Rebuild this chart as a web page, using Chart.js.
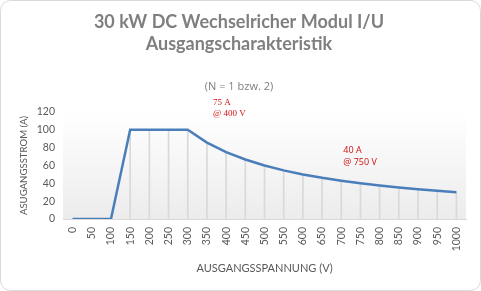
<!DOCTYPE html>
<html>
<head>
<meta charset="utf-8">
<script src="https://cdn.jsdelivr.net/npm/chart.js@4/dist/chart.umd.min.js"></script>
<style>
html,body{margin:0;padding:0;background:#fff;}
#wrap{width:481px;height:291px;position:relative;}
</style>
</head>
<body>
<div id="wrap"><canvas id="c" width="481" height="291"></canvas></div>
<script>
// ---- data ----
const voltageCategories = ['0','50','100','150','200','250','300','350','400','450','500','550','600','650','700','750','800','850','900','950','1000'];
const outputCurrent = [0,0,0,100,100,100,100,85.7,75,66.7,60,54.5,50,46.2,42.9,40,37.5,35.3,33.3,31.6,30];
const yTickMin = 0;
const yTickMax = 120;
const yTickStep = 20;
const titleLines = ['30 kW DC Wechselricher Modul I/U','Ausgangscharakteristik'];
const subtitleText = '(N = 1 bzw. 2)';
const yAxisTitle = 'ASUGANGSSTROM (A)';
const xAxisTitle = 'AUSGANGSSPANNUNG (V)';
const note1Lines = ['75 A','@ 400 V'];
const note2Lines = ['40 A','@ 750 V'];

const W = 481, H = 291;
const AREA_LEFT = 63, AREA_RIGHT = 466, AREA_BOTTOM = 219, PAD_LEFT = 12, PAD_BOTTOM = 10;

const decor = {
  id: 'decor',
  beforeDraw(chart) {
    const {ctx, chartArea: a} = chart;
    ctx.save();
    ctx.fillStyle = '#ffffff';
    ctx.fillRect(0, 0, W, H);
    const g = ctx.createLinearGradient(0, a.top, 0, a.bottom);
    g.addColorStop(0, '#ffffff');
    g.addColorStop(1, '#ececec');
    ctx.fillStyle = g;
    ctx.fillRect(a.left, a.top, a.right - a.left, a.bottom - a.top);
    ctx.restore();
  },
  afterDraw(chart) {
    const {ctx, scales} = chart;
    const x = scales.x, y = scales.y;
    ctx.save();
    // annotations
    ctx.fillStyle = '#d01010';
    ctx.textBaseline = 'middle';
    ctx.textAlign = 'left';
    ctx.font = '9px "Liberation Serif", serif';
    const n1x = x.getPixelForValue(7) + 6;
    const n1y = y.getPixelForValue(yTickMax) - 9;
    note1Lines.forEach((t, i) => ctx.fillText(t, n1x, n1y + i * 11));
    ctx.font = '9px "Open Sans", sans-serif';
    const n2x = x.getPixelForValue(14) + 2;
    const n2y = y.getPixelForValue(yTickMax) + 38;
    note2Lines.forEach((t, i) => ctx.fillText(t, n2x, n2y + i * 12));
    // outer rounded border
    ctx.strokeStyle = '#d9d9d9';
    ctx.lineWidth = 1;
    ctx.beginPath();
    ctx.roundRect(0.5, 0.5, W - 1, H - 1, 10);
    ctx.stroke();
    ctx.restore();
  }
};

new Chart(document.getElementById('c'), {
  type: 'line',
  data: {
    labels: voltageCategories,
    datasets: [
      {
        type: 'line',
        data: outputCurrent,
        borderColor: '#4a7ebb',
        borderWidth: 2.5,
        pointRadius: 0,
        tension: 0,
        fill: false,
        order: 0
      },
      {
        type: 'bar',
        data: outputCurrent,
        backgroundColor: '#d9d9d9',
        borderWidth: 0,
        barThickness: 1,
        order: 1
      }
    ]
  },
  plugins: [decor],
  options: {
    responsive: false,
    animation: false,
    devicePixelRatio: 1,
    layout: { padding: { left: PAD_LEFT, right: W - AREA_RIGHT, top: 0, bottom: PAD_BOTTOM } },
    plugins: {
      legend: { display: false },
      tooltip: { enabled: false },
      title: {
        display: true,
        text: titleLines,
        color: '#7f7f7f',
        font: { family: 'Lato', size: 18, weight: 'bold', lineHeight: 22 / 18 },
        padding: { top: 11, bottom: 12 }
      },
      subtitle: {
        display: true,
        text: subtitleText,
        color: '#7f7f7f',
        font: { family: 'Open Sans', size: 11, lineHeight: 1.2 },
        padding: { top: 13.4, bottom: 18.4 }
      }
    },
    scales: {
      x: {
        type: 'category',
        offset: true,
        grid: { display: false, drawTicks: false, offset: false },
        border: { display: true, color: '#d9d9d9', width: 1 },
        ticks: {
          minRotation: 90, maxRotation: 90, autoSkip: false,
          padding: 8, color: '#595959',
          font: { family: 'Lato', size: 10.5 }
        },
        title: {
          display: true, text: xAxisTitle, color: '#595959',
          font: { family: 'Lato', size: 11, lineHeight: 1.2 },
          padding: { top: 0, bottom: 6.4 }
        },
        afterFit(s) { s.height = H - PAD_BOTTOM - AREA_BOTTOM; }
      },
      y: {
        min: yTickMin, max: yTickMax,
        grid: { display: false, drawTicks: false },
        border: { display: false },
        ticks: {
          stepSize: yTickStep, padding: 8, color: '#595959',
          font: { family: 'Lato', size: 10.5 }
        },
        title: {
          display: true, text: yAxisTitle, color: '#595959',
          font: { family: 'Lato', size: 9.6, lineHeight: 1.2 },
          padding: { top: 6.2, bottom: 0 }
        },
        afterFit(s) { s.width = AREA_LEFT - PAD_LEFT; }
      }
    }
  }
});
</script>
</body>
</html>
